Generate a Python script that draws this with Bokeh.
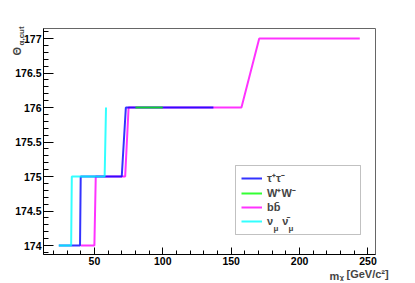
import math
from bokeh.plotting import figure
from bokeh.models import (Range1d, SingleIntervalTicker, Label, Legend, LegendItem,
                          BoxAnnotation)
from bokeh.embed import file_html
from bokeh.resources import INLINE

# ---- data ----
tau_x = [24, 39.5, 40, 70, 73, 137]
tau_y = [174, 174, 175, 175, 176, 176]
ww_x = [80, 100]
ww_y = [176, 176]
bb_x = [40, 50, 51, 72.5, 75, 157.5, 170.5, 244]
bb_y = [174, 174, 175, 175, 176, 176, 177, 177]
nu_x = [24, 33, 33.5, 57.5, 58.5]
nu_y = [174, 174, 175, 175, 176]

FONT = "Liberation Sans"

p = figure(frame_width=332, frame_height=226, output_backend="svg", toolbar_location=None,
           x_range=Range1d(12.8, 255.5), y_range=Range1d(173.87, 177.145),
           min_border_left=41, min_border_top=28, min_border_right=40, min_border_bottom=27)
p.grid.visible = False
p.outline_line_color = "#666666"

p.xaxis.ticker = SingleIntervalTicker(interval=50, num_minor_ticks=5)
p.yaxis.ticker = SingleIntervalTicker(interval=0.5, num_minor_ticks=5)
for ax in (p.xaxis[0], p.yaxis[0]):
    ax.major_tick_out = 0
    ax.minor_tick_out = 0
    ax.axis_line_color = "black"
    ax.major_label_text_font = FONT
    ax.major_label_text_font_style = "bold"
    ax.major_label_text_font_size = "10.5px"
    ax.major_label_text_color = "black"
p.xaxis.major_tick_in = 7
p.xaxis.minor_tick_in = 4
p.yaxis.major_tick_in = 10
p.yaxis.minor_tick_in = 5
p.xaxis.major_label_standoff = 2
p.yaxis.major_label_standoff = 2

ALPHA = 0.8
r_bb = p.line(bb_x, bb_y, line_color="#ff00ff", line_width=2, line_alpha=ALPHA)
r_tau = p.line(tau_x, tau_y, line_color="#0000ff", line_width=2, line_alpha=ALPHA)
r_ww = p.line(ww_x, ww_y, line_color="#00ff00", line_width=2, line_alpha=ALPHA)
r_nu = p.line(nu_x, nu_y, line_color="#00ffff", line_width=2, line_alpha=ALPHA)

box = BoxAnnotation(left=192, right=317, bottom=20, top=89,
                    left_units="screen", right_units="screen",
                    top_units="screen", bottom_units="screen",
                    fill_color="white", fill_alpha=1.0,
                    line_color="#333333", line_width=1)
p.add_layout(box)

legend = Legend(items=[
    LegendItem(label="τ⁺τ⁻", renderers=[r_tau]),
    LegendItem(label="W⁺W⁻", renderers=[r_ww]),
    LegendItem(label="bb\u0304", renderers=[r_bb]),
    LegendItem(label="ν   ν\u0304 ", renderers=[r_nu]),
], location=(194, 22), orientation="vertical",
    background_fill_alpha=0, border_line_alpha=0,
    padding=4, spacing=0, margin=0,
    glyph_width=21, glyph_height=14, label_height=14, label_standoff=5,
    label_text_font=FONT, label_text_font_style="bold", label_text_font_size="11px")
p.add_layout(legend, "center")

for xs in (230, 245):
    p.add_layout(Label(x=xs, y=26, x_units="screen", y_units="screen", text="μ",
                       text_font=FONT, text_font_size="8px", text_font_style="bold",
                       text_baseline="alphabetic"))

def lab(text, x, y, size, **kw):
    return Label(x=x, y=y, x_units="screen", y_units="screen", text=text,
                 text_align="left", text_baseline="alphabetic",
                 text_font=FONT, text_font_size=size, text_font_style="bold", **kw)

# y title  Θ_{α,cut}
p.add_layout(lab("Θ", 16, 199, "11px", angle=math.pi / 2), "left")
p.add_layout(lab("α,cut", -22, -17, "8px", angle=math.pi / 2), "above")
# x title  m_χ [GeV/c²]
p.add_layout(lab("m", -46, -21, "11px"), "right")
p.add_layout(lab("χ", -46, -23, "8px"), "right")
p.add_layout(lab("[GeV/c²]", 303, 5.5, "11px"), "below")

open("out.html", "w").write(file_html(p, INLINE))
